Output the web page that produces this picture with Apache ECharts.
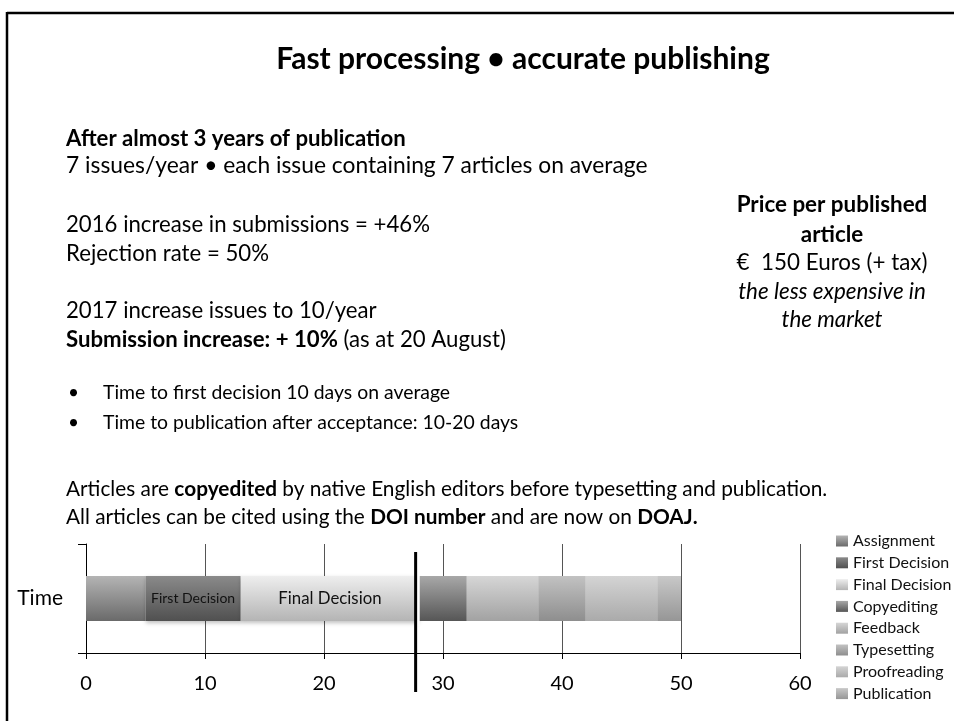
<!DOCTYPE html>
<html>
<head>
    <meta charset="utf-8">
    <title></title>
    <script type="text/javascript" src="https://cdn.jsdelivr.net/npm/echarts@6/dist/echarts.min.js"></script>
    <style>
        html, body { margin: 0; padding: 0; background: #fff; }
    </style>
</head>
<body>

<div id="main" style="width: 954px;height:721px;"></div>
<script type="text/javascript">
    // 数据
    var categories = ['Time'];
    var stageNames = ['Assignment', 'First Decision', 'Final Decision', 'Copyediting',
        'Feedback', 'Typesetting', 'Proofreading', 'Publication'];
    var stageDays = [5, 8, 15, 4, 6, 4, 6, 2];
    var labelledStages = ['First Decision', 'Final Decision'];
    var xMin = 0, xMax = 60, xStep = 10;
    var breakAt = 27.7;

    // 灰度渐变 (上, 下)
    var shades = [
        ['#b4b4b4', '#6a6a6a'],
        ['#8a8a8a', '#505050'],
        ['#eeeeee', '#b4b4b4'],
        ['#a8a8a8', '#565656'],
        ['#d6d6d6', '#a2a2a2'],
        ['#c2c2c2', '#8e8e8e'],
        ['#d4d4d4', '#aaaaaa'],
        ['#c8c8c8', '#969696']
    ];

    var FONT = 'Lato, "Liberation Sans", sans-serif';

    function grad(pair) {
        return {
            type: 'linear', x: 0, y: 0, x2: 0, y2: 1,
            colorStops: [{offset: 0, color: pair[0]}, {offset: 1, color: pair[1]}]
        };
    }

    function txt(x, y, text, size, opts) {
        opts = opts || {};
        return {
            type: 'text',
            x: x, y: y,
            silent: true,
            z: 50,
            style: {
                text: text,
                fill: '#000',
                fontStyle: opts.italic ? 'italic' : 'normal',
                fontWeight: opts.weight || 'normal',
                fontSize: size,
                fontFamily: FONT,
                align: opts.align || 'left',
                textAlign: opts.align || 'left',
                verticalAlign: 'middle',
                textVerticalAlign: 'middle',
                rich: opts.rich
            }
        };
    }

    function boldRich(size) {
        return {b: {fontWeight: 'bold', fontSize: size, fontFamily: FONT, fill: '#000'}};
    }

    var texts = [
        // 边框
        {type: 'line', shape: {x1: 7, y1: 13, x2: 954, y2: 13}, style: {stroke: '#000', lineWidth: 2.5}},
        {type: 'line', shape: {x1: 7, y1: 12, x2: 7, y2: 721}, style: {stroke: '#000', lineWidth: 2.5}},

        txt(523, 59, 'Fast processing • accurate publishing', 30, {weight: 'bold', align: 'center'}),

        txt(66, 139, 'After almost 3 years of publication', 22.2, {weight: 'bold'}),
        txt(66, 166, '7 issues/year • each issue containing 7 articles on average', 22.8),
        txt(66, 225, '2016 increase in submissions = +46%', 22.2),
        txt(66, 254, 'Rejection rate = 50%', 22.2),
        txt(66, 311, '2017 increase issues to 10/year', 22.2),
        txt(66, 340, '{b|Submission increase: + 10%} (as at 20 August)', 22.2, {rich: boldRich(22.2)}),

        txt(68, 393, '•', 19),
        txt(103, 393, 'Time to first decision 10 days on average', 19.4),
        txt(68, 423, '•', 19),
        txt(103, 423, 'Time to publication after acceptance: 10-20 days', 19.4),

        txt(66, 489, 'Articles are {b|copyedited} by native English editors before typesetting and publication.', 20.8,
            {rich: boldRich(20.8)}),
        txt(66, 517, 'All articles can be cited using the {b|DOI number} and are now on {b|DOAJ.}', 20.8,
            {rich: boldRich(20.8)}),

        txt(832, 205, 'Price per published', 22.4, {weight: 'bold', align: 'center'}),
        txt(832, 235, 'article', 22.4, {weight: 'bold', align: 'center'}),
        txt(832, 263, '€  150 Euros (+ tax)', 22.4, {align: 'center'}),
        txt(832, 292, 'the less expensive in', 22.4, {italic: true, align: 'center'}),
        txt(832, 320, 'the market', 22.4, {italic: true, align: 'center'})
    ];

    var myChart = echarts.init(document.getElementById('main'));

    var series = stageNames.map(function (name, i) {
        var labelled = labelledStages.indexOf(name) >= 0;
        return {
            name: name,
            type: 'bar',
            stack: 'total',
            barWidth: 45,
            data: [stageDays[i]],
            itemStyle: {
                color: grad(shades[i]),
                shadowColor: 'rgba(0,0,0,0.25)',
                shadowBlur: 4,
                shadowOffsetY: 2
            },
            label: {
                show: labelled,
                position: 'inside',
                formatter: name,
                color: '#111',
                fontFamily: FONT,
                fontSize: name === 'First Decision' ? 14 : 16.8
            },
            emphasis: {disabled: true}
        };
    });

    option = {
        animation: false,
        textStyle: {fontFamily: FONT},
        grid: {left: 86, right: 154, top: 544, bottom: 68, containLabel: false},
        legend: {
            orient: 'vertical',
            left: 836,
            top: 533,
            padding: 0,
            itemWidth: 12,
            itemHeight: 11,
            itemGap: 5.8,
            icon: 'rect',
            data: stageNames,
            selectedMode: false,
            textStyle: {fontSize: 16, color: '#111', fontFamily: FONT}
        },
        xAxis: {
            type: 'value',
            min: xMin,
            max: xMax,
            interval: xStep,
            axisLine: {show: true, lineStyle: {color: '#000', width: 1}},
            axisTick: {show: true, length: 6, lineStyle: {color: '#000'}},
            axisLabel: {color: '#000', fontSize: 20, margin: 21, fontFamily: FONT},
            splitLine: {show: true, lineStyle: {color: '#555', width: 1}}
        },
        yAxis: {
            type: 'category',
            data: categories,
            axisLine: {show: true, lineStyle: {color: '#000', width: 1}},
            axisTick: {show: true, length: 8, lineStyle: {color: '#000'}},
            axisLabel: {color: '#000', fontSize: 21, margin: 23, fontFamily: FONT}
        },
        series: series,
        graphic: texts
    };

    myChart.setOption(option);

    // 断轴标记
    var bx = myChart.convertToPixel({xAxisIndex: 0}, breakAt);
    var gapEnd = myChart.convertToPixel({xAxisIndex: 0}, 28);
    myChart.setOption({
        graphic: texts.concat([
            {type: 'rect', shape: {x: bx, y: 572, width: gapEnd - bx + 0.5, height: 54}, style: {fill: '#fff'}, z: 100},
            {type: 'line', shape: {x1: bx, y1: 552, x2: bx, y2: 692}, style: {stroke: '#000', lineWidth: 3}, z: 101}
        ])
    });
</script>

</body>
</html>
